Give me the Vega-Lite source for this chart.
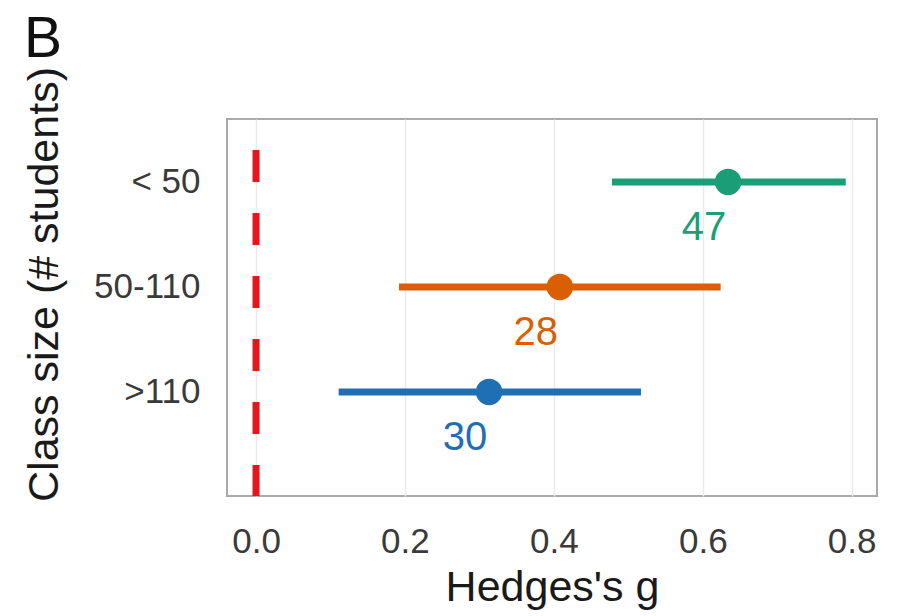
{
  "$schema": "https://vega.github.io/schema/vega-lite/v6.json",
  "width": 650,
  "height": 377,
  "autosize": {"type": "none"},
  "padding": {"left": 227, "top": 119, "right": 28, "bottom": 120},
  "background": "white",
  "title": {"text": "B", "anchor": "start", "frame": "group", "fontSize": 57, "font": "Liberation Sans", "fontWeight": "normal", "color": "#111111", "baseline": "alphabetic", "offset": 0, "dx": -203, "dy": 47},
  "config": {
    "view": {"stroke": "#aaaaaa", "strokeWidth": 2},
    "font": "Liberation Sans"
  },
  "data": {"values": [
    {"size": "< 50", "g": 0.634, "lo": 0.478, "hi": 0.792, "n": 47},
    {"size": "50-110", "g": 0.408, "lo": 0.192, "hi": 0.624, "n": 28},
    {"size": ">110", "g": 0.313, "lo": 0.111, "hi": 0.517, "n": 30}
  ]},
  "layer": [
    {
      "data": {"values": [{"ref": 0}]},
      "mark": {"type": "rule", "color": "#e8141c", "strokeWidth": 7, "strokeDash": [32, 31], "strokeDashOffset": 32},
      "encoding": {
        "x": {"field": "ref", "type": "quantitative", "title": "Hedges's g",
              "scale": {"domain": [-0.039, 0.834], "nice": false, "zero": false},
              "axis": {"values": [0, 0.2, 0.4, 0.6, 0.8], "format": ".1f", "grid": true, "gridColor": "#ebebeb", "gridWidth": 1.5, "domain": false, "ticks": false, "tickSize": 0, "labelFontSize": 35, "labelColor": "#3a3a3a", "labelPadding": 56, "labelBaseline": "alphabetic", "titleFontSize": 43, "titleFontWeight": "normal", "titleColor": "#1a1a1a", "titleBaseline": "alphabetic", "titleY": 104}}
      }
    },
    {
      "mark": {"type": "rule", "strokeWidth": 7},
      "encoding": {
        "x": {"field": "lo", "type": "quantitative", "title": "Hedges's g"},
        "x2": {"field": "hi"},
        "y": {"field": "size", "type": "nominal", "sort": ["< 50", "50-110", ">110"], "title": "Class size (# students)",
              "scale": {"type": "point", "padding": 0.795, "align": 0.377},
              "axis": {"grid": false, "domain": false, "ticks": false, "tickSize": 0, "labelFontSize": 35, "labelColor": "#3a3a3a", "labelPadding": 27, "labelBaseline": "middle", "titleFontSize": 43, "titleFontWeight": "normal", "titleColor": "#1a1a1a", "titleBaseline": "alphabetic", "titleAngle": -90, "titleAlign": "center", "titleX": -170, "titleY": 165}},
        "color": {"field": "size", "type": "nominal", "sort": ["< 50", "50-110", ">110"], "scale": {"domain": ["< 50", "50-110", ">110"], "range": ["#1b9e77", "#d95f02", "#1f6fb5"]}, "legend": null}
      }
    },
    {
      "mark": {"type": "point", "filled": true, "opacity": 1, "size": 700},
      "encoding": {
        "x": {"field": "g", "type": "quantitative", "title": "Hedges's g"},
        "y": {"field": "size", "type": "nominal", "sort": ["< 50", "50-110", ">110"], "title": "Class size (# students)"},
        "color": {"field": "size", "type": "nominal", "legend": null}
      }
    },
    {
      "mark": {"type": "text", "fontSize": 40, "dx": -24, "dy": 46, "baseline": "middle", "align": "center"},
      "encoding": {
        "x": {"field": "g", "type": "quantitative", "title": "Hedges's g"},
        "y": {"field": "size", "type": "nominal", "sort": ["< 50", "50-110", ">110"], "title": "Class size (# students)"},
        "text": {"field": "n", "type": "quantitative"},
        "color": {"field": "size", "type": "nominal", "legend": null}
      }
    }
  ]
}
